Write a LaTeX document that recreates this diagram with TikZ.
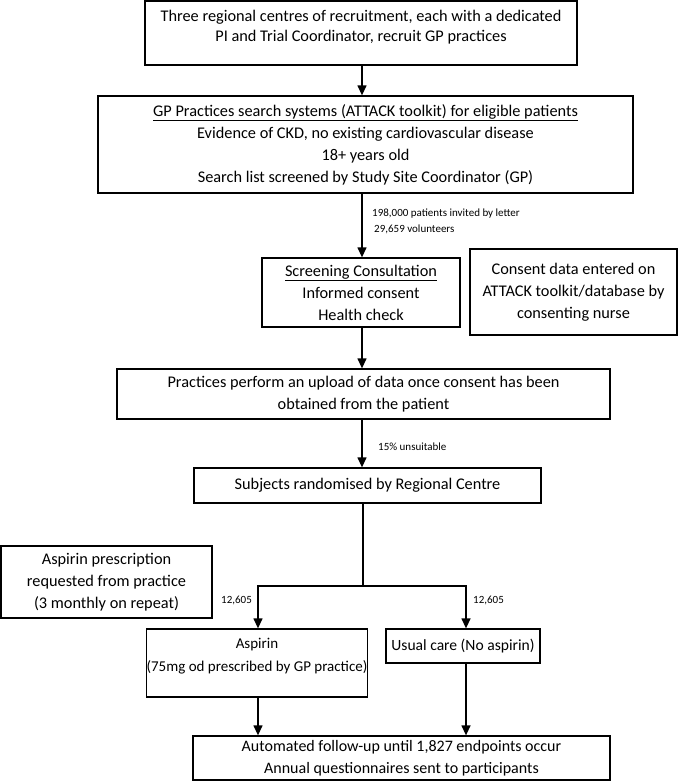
\documentclass[tikz,border=0pt]{standalone}
\usepackage{fontspec}
\setmainfont{Carlito}
\usetikzlibrary{arrows.meta}
\begin{document}
\begin{tikzpicture}[x=1pt,y=-1pt,
  box/.style={draw, line width=1.3pt, align=center, inner sep=0pt,
    font=\fontsize{16.3}{22}\selectfont},
  arr/.style={line width=1.3pt, -{Triangle[length=10pt,width=9pt]}},
  ln/.style={line width=1.3pt},
  lbl/.style={font=\fontsize{11}{15}\selectfont, anchor=west, align=left, inner sep=0pt}]
\useasboundingbox (0,0) rectangle (685,782);
\node[box, minimum width=432, minimum height=64, text depth=14pt, font=\fontsize{16.3}{20}\selectfont] (b1) at (361,33)
  {Three regional centres of recruitment, each with a dedicated\\PI and Trial Coordinator, recruit GP practices};
\node[box, minimum width=535, minimum height=97] (b2) at (365.5,144.5)
  {\underline{GP Practices search systems (ATTACK toolkit) for eligible patients}\\Evidence of CKD, no existing cardiovascular disease\\18+ years old\\Search list screened by Study Site Coordinator (GP)};
\node[box, minimum width=198, minimum height=69] (b3) at (361,292.5)
  {\underline{Screening Consultation}\\Informed consent\\Health check};
\node[box, minimum width=207, minimum height=86] (b3b) at (573.5,292)
  {Consent data entered on\\ATTACK toolkit/database by\\consenting nurse};
\node[box, minimum width=493, minimum height=50] (b4) at (363.5,394)
  {Practices perform an upload of data once consent has been\\obtained from the patient};
\node[box, minimum width=347, minimum height=35] (b5) at (367.5,485.5)
  {Subjects randomised by Regional Centre};
\node[box, minimum width=211, minimum height=72] (pr) at (106.5,582)
  {Aspirin prescription\\requested from practice\\(3 monthly on repeat)};
\node[box, minimum width=221, minimum height=68, text depth=17pt, font=\fontsize{15}{23}\selectfont] (asp) at (257,663)
  {Aspirin\\(75mg od prescribed by GP practice)};
\node[box, minimum width=154, minimum height=34, font=\fontsize{15.6}{22}\selectfont] (uc) at (463,646)
  {Usual care (No aspirin)};
\node[box, minimum width=417, minimum height=44, font=\fontsize{16}{22}\selectfont] (bot) at (401.5,758)
  {Automated follow-up until 1,827 endpoints occur\\Annual questionnaires sent to participants};
\coordinate (sp) at (363,586);
\draw[arr] (b1.south -| 362,0) -- (362,0 |- b2.north);
\draw[arr] (b2.south -| 362,0) -- (362,0 |- b3.north);
\draw[arr] (b3.south -| 362,0) -- (362,0 |- b4.north);
\draw[arr] (b4.south -| 362,0) -- (362,0 |- b5.north);
\draw[ln] (b5.south -| sp) -- (sp);
\draw[arr] (sp) -| (258,0 |- asp.north);
\draw[arr] (sp) -| (466,0 |- uc.north);
\draw[arr] (258,0 |- asp.south) -- (258,0 |- bot.north);
\draw[arr] (466,0 |- uc.south) -- (466,0 |- bot.north);
\node[lbl] (l1) at (372,214) {198,000 patients invited by letter};
\node[lbl] (l2) at (374,229) {29,659 volunteers};
\node[lbl] (l3) at (378,447) {15\% unsuitable};
\node[lbl] (l4) at (221,600) {12,605};
\node[lbl] (l5) at (473,600) {12,605};
\end{tikzpicture}
\end{document}
